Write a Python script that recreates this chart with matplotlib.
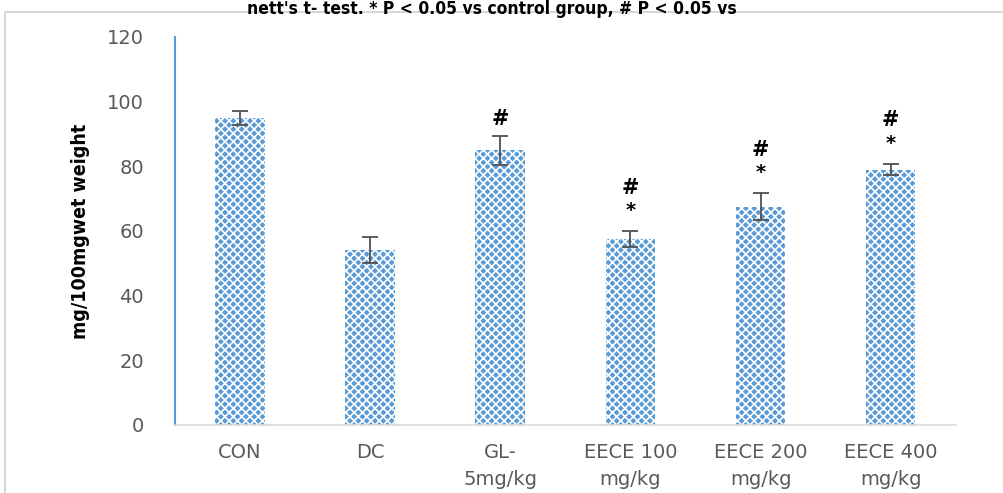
import matplotlib.pyplot as plt
from matplotlib.patches import Rectangle

# data
groups = ["CON", "DC", "GL-\n5mg/kg", "EECE 100\nmg/kg", "EECE 200\nmg/kg", "EECE 400\nmg/kg"]
means = [95, 54, 85, 57.5, 67.5, 79]
errors = [2.2, 4.0, 4.5, 2.5, 4.2, 1.8]
star = ["", "", "", "*", "*", "*"]
hash_mark = ["", "", "#", "#", "#", "#"]

BLUE = "#5b9bd5"
GRAY = "#595959"

plt.rcParams["hatch.linewidth"] = 1.2
plt.rcParams["hatch.color"] = "white"

fig = plt.figure(figsize=(10.04, 4.93), dpi=100)
fig.patches.append(Rectangle((0.005, -0.1), 1.1, 1.075, transform=fig.transFigure,
                             fill=False, edgecolor="#d0d0d0", linewidth=1.2))
fig.text(0.49, 0.999, "nett's t- test. * P < 0.05 vs control group, # P < 0.05 vs",
         ha="center", va="top", fontsize=12.5, fontweight="bold",
         family="DejaVu Sans", fontstretch="condensed")

ax = fig.add_axes([0.174, 0.138, 0.778, 0.787])
x = range(len(groups))
ax.bar(x, means, width=0.38, color=BLUE, hatch="xxxx", edgecolor="white",
       linewidth=0, zorder=2)
ax.errorbar(x, means, yerr=errors, fmt="none", ecolor="#505050",
            elinewidth=1.3, capsize=6, capthick=1.3, zorder=3)

for i in x:
    top = means[i] + errors[i]
    if star[i]:
        ax.annotate(star[i], xy=(i, top), xytext=(0, 8), textcoords="offset points",
                    ha="center", va="bottom", fontsize=14, fontweight="bold")
        ax.annotate(hash_mark[i], xy=(i, top), xytext=(0, 24), textcoords="offset points",
                    ha="center", va="bottom", fontsize=15, fontweight="bold")
    elif hash_mark[i]:
        ax.annotate(hash_mark[i], xy=(i, top), xytext=(0, 5), textcoords="offset points",
                    ha="center", va="bottom", fontsize=15, fontweight="bold")

ax.set_xlim(-0.5, len(groups) - 0.5)
ax.set_ylim(0, 120)
ax.set_yticks(range(0, 121, 20))
ax.set_xticks(list(x))
ax.set_xticklabels(groups, linespacing=1.5)
ax.tick_params(length=0, labelsize=14, labelcolor=GRAY)
ax.tick_params(axis="x", pad=13)
ax.tick_params(axis="y", pad=22)

ax.spines["top"].set_visible(False)
ax.spines["right"].set_visible(False)
ax.spines["left"].set_color(BLUE)
ax.spines["left"].set_linewidth(1.5)
ax.spines["bottom"].set_color("#d9d9d9")
ax.spines["bottom"].set_linewidth(1.2)

ax.set_ylabel("mg/100mgwet weight", fontsize=14, fontweight="bold",
              family="DejaVu Sans", fontstretch="condensed", labelpad=12)

fig.savefig("out.png", dpi=100)
